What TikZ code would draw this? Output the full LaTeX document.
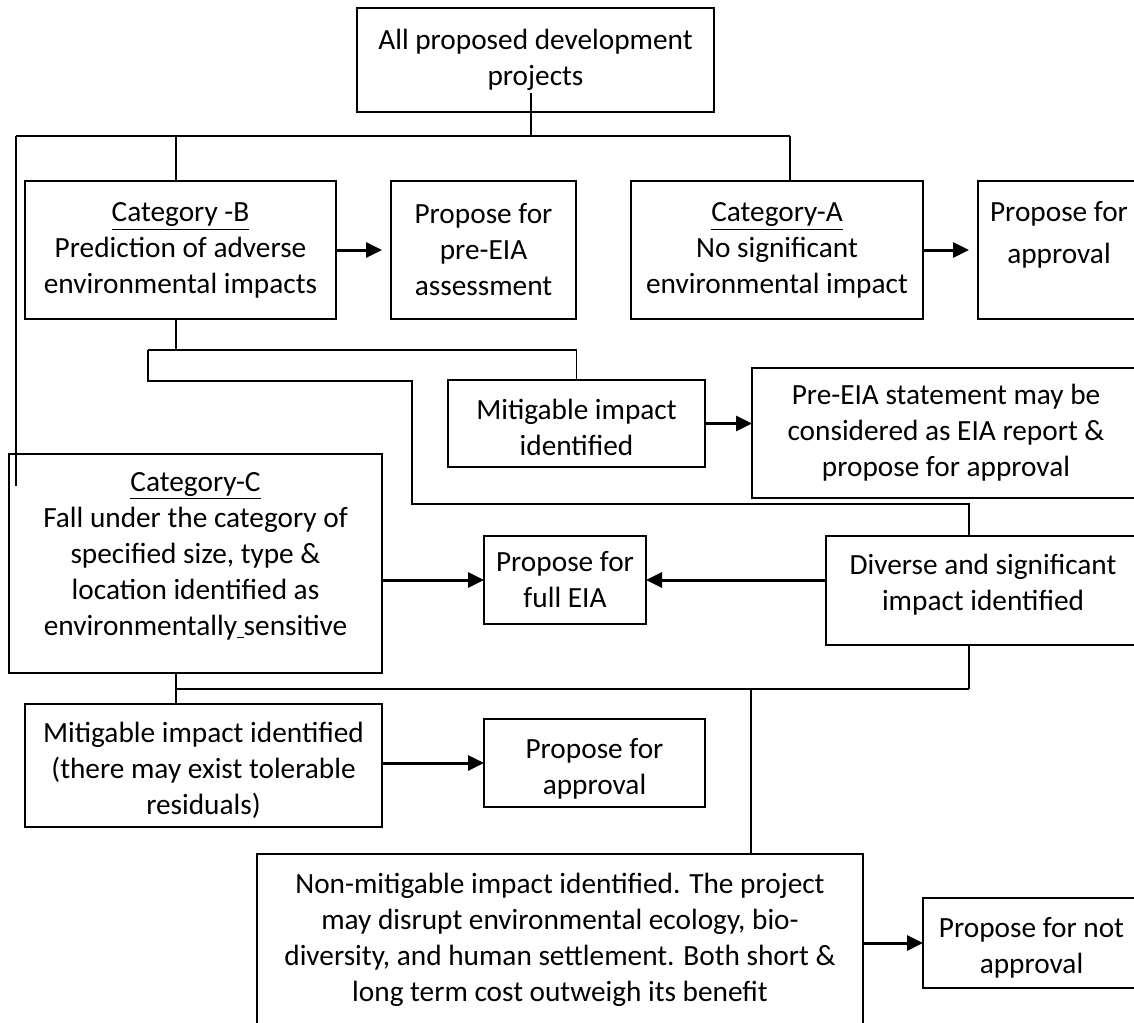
\documentclass[tikz,border=0pt]{standalone}
\usepackage{fontspec}
\setmainfont{Carlito}
\usetikzlibrary{arrows.meta}
\tikzset{
  box/.style={draw, line width=1pt, inner sep=0pt, outer sep=0pt, align=center,
    font=\fontsize{14.65}{18}\selectfont},
  size/.style 2 args={minimum width=#1, minimum height=#2},
  bus/.style={line width=0.8pt},
  flow/.style={line width=1.5pt, -{Triangle[length=8pt,width=7.5pt]}},
}
% invisible struts that set the height of a first line / the depth of a last line
\newcommand\toppad[1]{\rule{0pt}{#1}}
\newcommand\botpad[1]{\rule[-#1]{0pt}{#1}}
\begin{document}
\begin{tikzpicture}[x=0.5pt,y=-0.5pt]
\useasboundingbox (0,0) rectangle (1134,1022);
\fill[white] (0,0) rectangle (1134,1022);
\clip (0,0) rectangle (1134,1022);

% boxes
\node[box, size={178.5pt}{52pt}] (all) at (535.5,60) {All proposed development\\projects};
\node[box, size={155.5pt}{69pt}] (catB) at (180.5,250) {\underline{Category -B}\\Prediction of adverse\\environmental impacts};
\node[box, size={92.5pt}{69pt}] (pre) at (483.5,250) {Propose for\\pre-EIA\\assessment};
\node[box, size={146pt}{69pt}] (catA) at (777,250) {\underline{Category-A}\\No significant\\environmental impact};
\node[box, size={81pt}{69pt}] (apprA) at (1059,250) {Propose for\\[3pt]approval\\\mbox{}};
\node[box, size={128.5pt}{43.5pt}] (mit1) at (576.5,423.5) {\toppad{14pt}Mitigable impact\\identified};
\node[box, size={194pt}{65pt}] (stmt) at (946,433) {Pre-EIA statement may be\\considered as EIA report \&\\propose for approval};
\node[box, size={186.5pt}{109.5pt}] (catC) at (195.5,563.5) {\underline{Category-C}\\Fall under the category of\\specified size, type \&\\location identified as\\environmentally\underline{\hspace{0.226em}}sensitive\botpad{10pt}};
\node[box, size={81pt}{44pt}] (full) at (565,580) {Propose for\\full EIA};
\node[box, size={157pt}{54.5pt}] (div) at (983,590.5) {Diverse and significant\\impact identified\botpad{8pt}};
\node[box, size={178.5pt}{61.5pt}] (mit2) at (203.5,765.5) {\toppad{15pt}Mitigable impact identified\\(there may exist tolerable\\residuals)};
\node[box, size={110.5pt}{44pt}] (appr2) at (594.5,763) {\toppad{16pt}Propose for\\approval};
\node[box, size={303pt}{86pt}] (nonmit) at (560,940) {Non-mitigable impact identified. The project\\may disrupt environmental ecology, bio-\\diversity, and human settlement. Both short \&\\long term cost outweigh its benefit};
\node[box, size={108.5pt}{45pt}] (notap) at (1031.5,943) {\toppad{15pt}Propose for not\\approval};

% junction points of the connector lines
\coordinate (tIn) at (531,93);
\coordinate (tL) at (16,136);
\coordinate (tB) at (176,136);
\coordinate (tT) at (531,136);
\coordinate (tA) at (790,136);
\coordinate (lEnd) at (16,486);
\coordinate (bB) at (176,350);
\coordinate (b1) at (148,350);
\coordinate (b3) at (412,381);
\coordinate (b4) at (969,504);
\coordinate (c1) at (176,689);
\coordinate (c2) at (969,689);
\coordinate (c3) at (751,689);

% top distribution
\draw[bus] (tIn) -- (tT);
\draw[bus] (tL) -- (tA);
\draw[bus] (tB) -- (tB |- catB.north);
\draw[bus] (tA) -- (tA |- catA.north);
\draw[bus] (tL) -- (lEnd);

% from category B
\draw[bus] (bB |- catB.south) -- (bB);
\draw[bus] (b1) -| (mit1.north);
\draw[bus] (b1) |- (b3) |- (b4) -- (b4 |- div.north);

% from category C and the significant-impact box
\draw[bus] (c1 |- catC.south) -- (c1 |- mit2.north);
\draw[bus] (c1) -- (c2);
\draw[bus] (c2 |- div.south) -- (c2);
\draw[bus] (c3) -- (c3 |- nonmit.north);

% arrows
\draw[flow, shorten >=4.5pt] (catB.east) -- (pre.west);
\draw[flow, shorten >=4.5pt] (catA.east) -- (apprA.west);
\draw[flow] (mit1.east) -- (mit1.east -| stmt.west);
\draw[flow] (catC.east |- full.west) -- (full.west);
\draw[flow] (div.west |- full.east) -- (full.east);
\draw[flow] (mit2.east |- appr2.west) -- (appr2.west);
\draw[flow] (nonmit.east |- notap.west) -- (notap.west);
\end{tikzpicture}
\end{document}
